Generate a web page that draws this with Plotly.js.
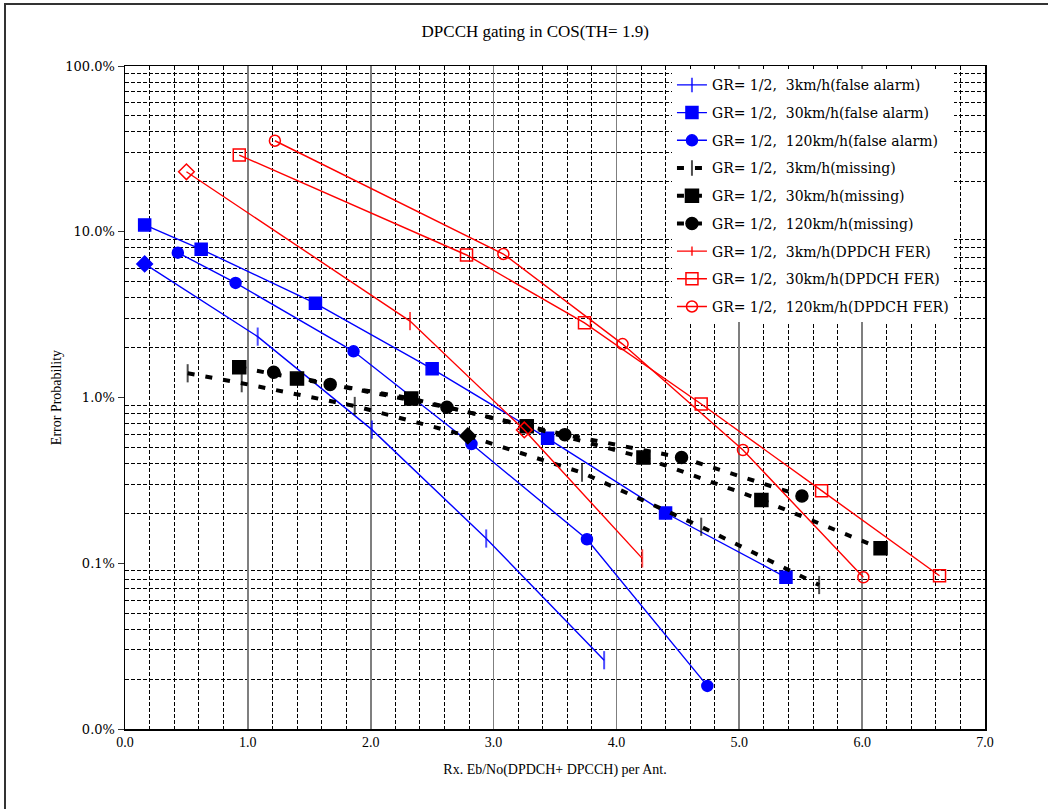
<!DOCTYPE html>
<html>
<head>
<meta charset="utf-8">
<script src="https://cdn.plot.ly/plotly-3.0.1.min.js"></script>
<style>
  html, body { margin: 0; padding: 0; background: #fff; }
  #chart { position: absolute; left: 0; top: 0; width: 1048px; height: 809px; }
  #frame { position: absolute; left: 4px; top: 3px; width: 1100px; height: 900px;
           border-top: 2px solid #333; border-left: 2px solid #333; pointer-events: none; z-index: 10; }
</style>
</head>
<body>
<div id="chart"></div>
<div id="frame"></div>
<script>
// ---- data (Error probability in %) ----
const fa3X   = [0.16, 1.08, 2.01, 2.94, 3.90];
const fa3Y   = [6.4, 2.33, 0.64, 0.141, 0.026];
const fa30X  = [0.16, 0.62, 1.55, 2.50, 3.44, 4.40, 5.38];
const fa30Y  = [11.0, 7.84, 3.70, 1.49, 0.567, 0.201, 0.0823];
const fa120X = [0.43, 0.90, 1.86, 2.82, 3.76, 4.74];
const fa120Y = [7.48, 4.91, 1.90, 0.524, 0.1395, 0.0182];
const ms3X   = [0.51, 0.95, 1.87, 2.79, 3.72, 4.69, 5.65];
const ms3Y   = [1.40, 1.22, 0.889, 0.586, 0.352, 0.166, 0.0739];
const ms30X  = [0.93, 1.40, 2.33, 3.27, 4.22, 5.18, 6.15];
const ms30Y  = [1.52, 1.30, 0.986, 0.670, 0.434, 0.241, 0.123];
const ms120X = [1.21, 1.67, 2.62, 3.58, 4.53, 5.51];
const ms120Y = [1.42, 1.20, 0.873, 0.597, 0.434, 0.2545];
const fer3X   = [0.50, 2.32, 3.25, 4.21];
const fer3Y   = [23.0, 2.89, 0.637, 0.107];
const fer30X  = [0.93, 2.78, 3.74, 4.69, 5.67, 6.63];
const fer30Y  = [29.0, 7.24, 2.82, 0.914, 0.274, 0.0841];
const fer120X = [1.22, 3.08, 4.05, 5.03, 6.01];
const fer120Y = [35.4, 7.34, 2.10, 0.482, 0.0823];

const seriesNames = [
  'GR= 1/2,  3km/h(false alarm)',
  'GR= 1/2,  30km/h(false alarm)',
  'GR= 1/2,  120km/h(false alarm)',
  'GR= 1/2,  3km/h(missing)',
  'GR= 1/2,  30km/h(missing)',
  'GR= 1/2,  120km/h(missing)',
  'GR= 1/2,  3km/h(DPDCH FER)',
  'GR= 1/2,  30km/h(DPDCH FER)',
  'GR= 1/2,  120km/h(DPDCH FER)'
];
// points drawn with a diamond instead of the series marker
const fa3Diamond = [0];
const ms3Diamond = [3];
const fer3Diamond = [0, 2];

const xTickVals = [0, 1, 2, 3, 4, 5, 6, 7];
const xTickText = ['0.0', '1.0', '2.0', '3.0', '4.0', '5.0', '6.0', '7.0'];
const yTickVals = [0.01, 0.1, 1, 10, 100];
const yTickText = ['0.0%', '0.1%', '1.0%', '10.0%', '100.0%'];

// ---- styles ----
const BLUE = '#0000ff', RED = '#ff0000', BLACK = '#000000';
const solid = (c) => ({ color: c, width: 1.4 });
const dashed = { color: BLACK, width: 4, dash: '7px,11px' };

function tickSeries(name, X, Y, color, line, diamonds, diamondSym, group) {
  const sizes = X.map((_, i) => diamonds.includes(i) ? 0 : 13);
  const main = {
    x: X, y: Y, name: name, type: 'scatter', mode: 'lines+markers',
    line: line, legendgroup: group,
    marker: { symbol: 'line-ns-open', size: sizes, color: color, line: { color: color, width: 2 } }
  };
  const dx = diamonds.map(i => X[i]);
  const dy = diamonds.map(i => Y[i]);
  const over = {
    x: dx, y: dy, type: 'scatter', mode: 'markers', showlegend: false, legendgroup: group,
    hoverinfo: 'skip',
    marker: { symbol: diamondSym, size: 12, color: color, line: { color: color, width: 1.5 } }
  };
  return [main, over];
}
function markSeries(name, X, Y, color, line, sym, size, group) {
  return {
    x: X, y: Y, name: name, type: 'scatter', mode: 'lines+markers', line: line, legendgroup: group,
    marker: { symbol: sym, size: size, color: color, line: { color: color, width: 1.5 } }
  };
}

const traces = [];
const t1 = tickSeries(seriesNames[0], fa3X, fa3Y, BLUE, solid(BLUE), fa3Diamond, 'diamond', 'g1');
traces.push(t1[0]);
traces.push(markSeries(seriesNames[1], fa30X, fa30Y, BLUE, solid(BLUE), 'square', 12, 'g2'));
traces.push(markSeries(seriesNames[2], fa120X, fa120Y, BLUE, solid(BLUE), 'circle', 11, 'g3'));
const t4 = tickSeries(seriesNames[3], ms3X, ms3Y, BLACK, dashed, ms3Diamond, 'diamond', 'g4');
traces.push(t4[0]);
traces.push(markSeries(seriesNames[4], ms30X, ms30Y, BLACK, dashed, 'square', 13, 'g5'));
traces.push(markSeries(seriesNames[5], ms120X, ms120Y, BLACK, dashed, 'circle', 12, 'g6'));
const t7 = tickSeries(seriesNames[6], fer3X, fer3Y, RED, solid(RED), fer3Diamond, 'diamond-open', 'g7');
traces.push(t7[0]);
traces.push(markSeries(seriesNames[7], fer30X, fer30Y, RED, solid(RED), 'square-open', 12, 'g8'));
traces.push(markSeries(seriesNames[8], fer120X, fer120Y, RED, solid(RED), 'circle-open', 11, 'g9'));
traces.push(t1[1], t4[1], t7[1]);

// minor grid positions (2..9 per decade)
const minorY = [];
for (let e = -2; e < 2; e++) for (let m = 2; m <= 9; m++) minorY.push(m * Math.pow(10, e));

const layout = {
  width: 1048, height: 809,
  paper_bgcolor: '#ffffff', plot_bgcolor: '#ffffff',
  margin: { l: 125, r: 63, t: 66, b: 80 },
  showlegend: true,
  title: {
    text: 'DPCCH gating in COS(TH= 1.9)',
    font: { family: 'Liberation Serif, serif', size: 17, color: '#000' },
    x: 0.477, xref: 'paper', xanchor: 'center',
    y: 1 - 31 / 809, yref: 'container', yanchor: 'middle'
  },
  xaxis: {
    range: [0, 7], tickmode: 'array', tickvals: xTickVals, ticktext: xTickText,
    tickfont: { family: 'Liberation Serif, serif', size: 14, color: '#000' },
    showgrid: true, gridcolor: '#7f7f7f', gridwidth: 1.6,
    showline: true, linecolor: '#000', linewidth: 1.5, mirror: true,
    ticks: '', zeroline: false,
    minor: { dtick: 0.2, tick0: 0, showgrid: true, gridcolor: '#000', griddash: '4px,2px', gridwidth: 1, ticks: '' },
    title: { text: 'Rx. Eb/No(DPDCH+ DPCCH) per Ant.', standoff: 15,
             font: { family: 'Liberation Serif, serif', size: 14, color: '#000' } }
  },
  yaxis: {
    type: 'log', range: [-2, 2], tickmode: 'array', tickvals: yTickVals, ticktext: yTickText,
    tickfont: { family: 'DejaVu Serif, serif', size: 13, color: '#000' },
    showgrid: false,
    showline: true, linecolor: '#000', linewidth: 1.5, mirror: true,
    ticks: 'outside', ticklen: 6, tickcolor: '#333', zeroline: false,
    minor: { tickmode: 'array', tickvals: minorY, showgrid: true, gridcolor: '#000', griddash: '4px,2px', gridwidth: 1, ticks: '' },
    title: { text: 'Error Probability', standoff: 0,
             font: { family: 'Liberation Serif, serif', size: 14, color: '#000' } }
  },
  yaxis2: {
    type: 'log', range: [-2, 2], overlaying: 'y', tickmode: 'array', tickvals: [0.1, 1],
    showticklabels: false, showgrid: true, gridcolor: '#7f7f7f', gridwidth: 2,
    showline: false, ticks: '', zeroline: false
  },
  legend: {
    x: 0.636, y: 0.995, xanchor: 'left', yanchor: 'top',
    bgcolor: '#ffffff', borderwidth: 0,
    font: { family: 'DejaVu Serif, serif', size: 14, color: '#000' },
    tracegroupgap: 6.5, traceorder: 'grouped'
  }
};

Plotly.newPlot('chart', traces, layout, { staticPlot: true });
</script>
</body>
</html>
